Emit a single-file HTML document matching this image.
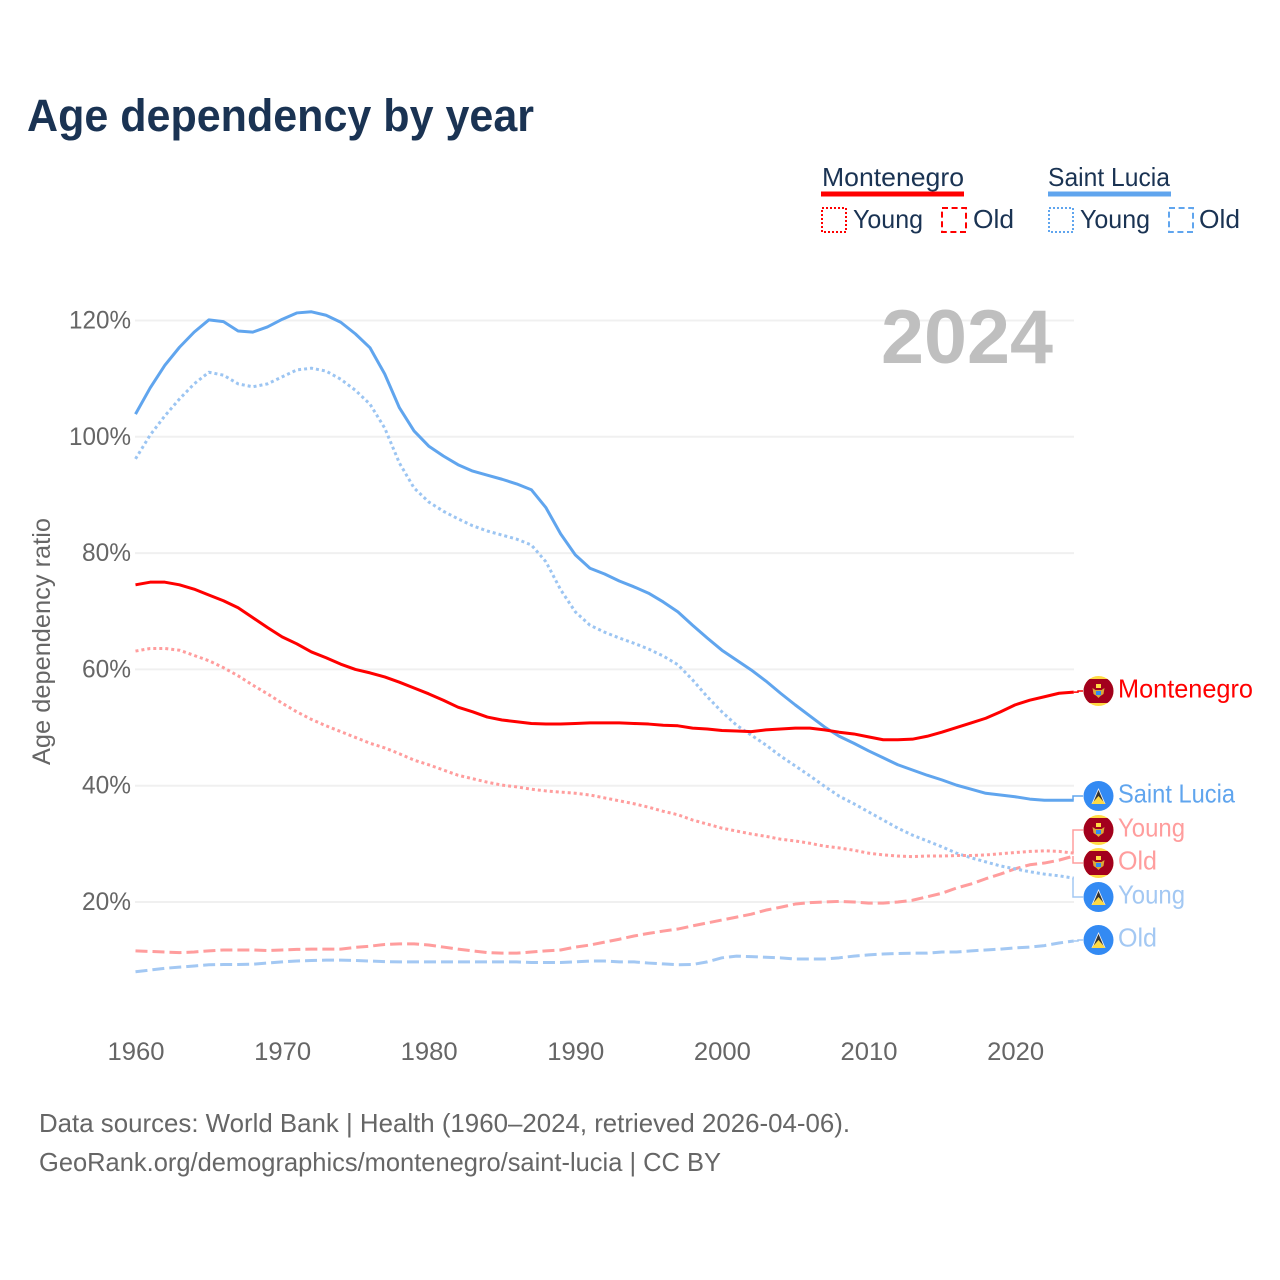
<!DOCTYPE html>
<html lang="en">
<head>
<meta charset="utf-8">
<title>Age dependency by year</title>
<style>
html,body{margin:0;padding:0;background:#fff;width:1280px;height:1280px;overflow:hidden}
svg{display:block;font-family:"Liberation Sans",sans-serif}
</style>
</head>
<body>
<svg id="chart" width="1280" height="1280" viewBox="0 0 1280 1280" xmlns="http://www.w3.org/2000/svg">
  <defs>
    <clipPath id="flag-clip"><circle cx="0" cy="0" r="15"/></clipPath>
    <g id="flag-me">
      <g clip-path="url(#flag-clip)">
        <rect x="-15" y="-15" width="30" height="30" fill="#ffda44"/>
        <rect x="-15" y="-12" width="30" height="24" fill="#a2001d"/>
        <path d="M-6 -3 L-3 -1 L3 -1 L6 -3 L5 3 L2 5 L0 7 L-2 5 L-5 3 Z" fill="#d9a93a"/>
        <rect x="-2.5" y="-7" width="5" height="4" fill="#ffda44"/>
        <rect x="-2.5" y="0" width="5" height="4" fill="#338af3"/>
      </g>
    </g>
    <g id="flag-lc">
      <g clip-path="url(#flag-clip)">
        <rect x="-15" y="-15" width="30" height="30" fill="#338af3"/>
        <path d="M0 -8 L7 8 L-7 8 Z" fill="#f0f0f0"/>
        <path d="M0 -6 L5.5 7 L-5.5 7 Z" fill="#333"/>
        <path d="M0 0 L7 8 L-7 8 Z" fill="#ffda44"/>
      </g>
    </g>
  </defs>

  <text x="27" y="131" font-size="45" font-weight="700" fill="#1a3353" textLength="507" lengthAdjust="spacingAndGlyphs">Age dependency by year</text>

  <g>
    <text x="822" y="186" font-size="26" fill="#1a3353" textLength="142" lengthAdjust="spacingAndGlyphs">Montenegro</text>
    <rect x="821" y="191.5" width="143" height="5" fill="#ff0000"/>
    <rect x="822" y="208" width="24" height="24" fill="none" stroke="#ff0000" stroke-width="2" stroke-dasharray="2 2"/>
    <text x="853" y="228" font-size="26" fill="#1a3353" textLength="70" lengthAdjust="spacingAndGlyphs">Young</text>
    <rect x="942" y="208" width="24" height="24" fill="none" stroke="#ff0000" stroke-width="2" stroke-dasharray="6 3.6"/>
    <text x="973" y="228" font-size="26" fill="#1a3353" textLength="41" lengthAdjust="spacingAndGlyphs">Old</text>

    <text x="1048" y="186" font-size="26" fill="#1a3353" textLength="122" lengthAdjust="spacingAndGlyphs">Saint Lucia</text>
    <rect x="1048" y="191.5" width="123" height="5" fill="#60a5ee"/>
    <rect x="1049" y="208" width="24" height="24" fill="none" stroke="#60a5ee" stroke-width="2" stroke-dasharray="2 2"/>
    <text x="1080" y="228" font-size="26" fill="#1a3353" textLength="70" lengthAdjust="spacingAndGlyphs">Young</text>
    <rect x="1169" y="208" width="24" height="24" fill="none" stroke="#60a5ee" stroke-width="2" stroke-dasharray="6 3.6"/>
    <text x="1199" y="228" font-size="26" fill="#1a3353" textLength="41" lengthAdjust="spacingAndGlyphs">Old</text>
  </g>

  <g id="grid"></g>

  <text x="881" y="363" font-size="76" font-weight="700" fill="#bfbfbf" textLength="172" lengthAdjust="spacingAndGlyphs">2024</text>

  <g id="y-ticks"></g>
  <g id="x-ticks"></g>
  <text transform="translate(50,765) rotate(-90)" x="0" y="0" font-size="25" fill="#666" textLength="247" lengthAdjust="spacingAndGlyphs">Age dependency ratio</text>

  <g id="connectors"></g>
  <g id="series"></g>
  <g id="end-labels"></g>

  <text x="39" y="1132" font-size="26" fill="#666" textLength="811" lengthAdjust="spacingAndGlyphs">Data sources: World Bank | Health (1960–2024, retrieved 2026-04-06).</text>
  <text x="39" y="1171" font-size="26" fill="#666" textLength="682" lengthAdjust="spacingAndGlyphs">GeoRank.org/demographics/montenegro/saint-lucia | CC BY</text>
</svg>
<script>
const years = [1960,1961,1962,1963,1964,1965,1966,1967,1968,1969,
  1970,1971,1972,1973,1974,1975,1976,1977,1978,1979,
  1980,1981,1982,1983,1984,1985,1986,1987,1988,1989,
  1990,1991,1992,1993,1994,1995,1996,1997,1998,1999,
  2000,2001,2002,2003,2004,2005,2006,2007,2008,2009,
  2010,2011,2012,2013,2014,2015,2016,2017,2018,2019,
  2020,2021,2022,2023,2024];
const xTickLabels = [1960,1970,1980,1990,2000,2010,2020];
const yTickLabels = [20,40,60,80,100,120];

const saintLuciaTotal = [103.9,108.4,112.3,115.4,118.0,120.1,119.8,118.2,118.0,118.9,
  120.2,121.3,121.5,120.9,119.7,117.7,115.3,110.8,105.0,101.0,
  98.4,96.7,95.2,94.1,93.4,92.7,91.9,90.9,87.8,83.3,
  79.7,77.4,76.4,75.2,74.2,73.1,71.6,69.9,67.6,65.4,
  63.3,61.6,59.9,58.0,55.9,53.9,52.0,50.1,48.5,47.3,
  46.0,44.8,43.6,42.7,41.8,41.0,40.1,39.4,38.7,38.4,
  38.1,37.7,37.5,37.5,37.5];
const saintLuciaYoung = [96.2,100.3,103.6,106.5,109.1,111.1,110.6,109.1,108.6,109.1,
  110.3,111.5,111.8,111.3,109.9,108.0,105.6,101.5,95.5,91.2,
  88.8,87.2,85.9,84.7,83.8,83.1,82.4,81.4,78.5,73.7,
  69.9,67.6,66.4,65.4,64.5,63.5,62.3,60.8,58.2,55.3,
  52.7,50.4,48.7,47.0,45.1,43.4,41.7,39.9,38.2,36.9,
  35.5,34.1,32.7,31.5,30.5,29.5,28.4,27.6,26.9,26.2,
  25.7,25.2,24.8,24.5,24.1];
const saintLuciaOld = [8.0,8.3,8.6,8.8,9.0,9.2,9.25,9.25,9.3,9.5,
  9.7,9.85,9.95,10.0,10.0,9.95,9.85,9.75,9.7,9.7,
  9.7,9.7,9.7,9.7,9.7,9.7,9.7,9.6,9.6,9.6,
  9.7,9.85,9.85,9.7,9.7,9.5,9.35,9.2,9.25,9.7,
  10.4,10.7,10.6,10.5,10.4,10.2,10.2,10.2,10.4,10.7,
  10.9,11.05,11.15,11.2,11.2,11.4,11.4,11.6,11.75,11.9,
  12.1,12.25,12.5,12.95,13.3];
const montenegroTotal = [74.55,75.0,75.0,74.55,73.8,72.8,71.8,70.6,68.9,67.2,
  65.6,64.4,63.0,62.0,60.9,60.0,59.4,58.7,57.8,56.8,
  55.8,54.7,53.5,52.7,51.8,51.3,51.0,50.7,50.6,50.6,
  50.7,50.8,50.8,50.8,50.7,50.6,50.4,50.3,49.9,49.75,
  49.5,49.4,49.3,49.6,49.75,49.9,49.9,49.6,49.2,48.9,
  48.4,47.9,47.9,48.0,48.5,49.2,50.0,50.8,51.6,52.7,
  53.9,54.7,55.3,55.9,56.1];
const montenegroYoung = [63.15,63.6,63.6,63.3,62.4,61.5,60.3,58.9,57.3,55.8,
  54.2,52.7,51.4,50.3,49.3,48.3,47.3,46.5,45.5,44.4,
  43.6,42.7,41.8,41.2,40.6,40.1,39.8,39.4,39.1,38.9,
  38.7,38.4,37.9,37.4,36.9,36.3,35.6,35.0,34.1,33.4,
  32.7,32.2,31.7,31.3,30.8,30.5,30.1,29.6,29.3,28.9,
  28.4,28.1,27.9,27.8,27.9,27.9,28.0,28.0,28.1,28.3,
  28.5,28.7,28.8,28.7,28.4];
const montenegroOld = [11.6,11.5,11.4,11.3,11.4,11.6,11.75,11.75,11.75,11.65,
  11.75,11.85,11.9,11.9,11.9,12.2,12.4,12.7,12.8,12.8,
  12.6,12.25,11.9,11.6,11.3,11.2,11.2,11.4,11.6,11.75,
  12.25,12.6,13.1,13.6,14.15,14.6,15.0,15.35,15.9,16.4,
  16.9,17.4,17.9,18.6,19.1,19.65,19.9,20.0,20.1,20.0,
  19.8,19.8,20.0,20.3,20.9,21.5,22.4,23.1,24.0,24.8,
  25.7,26.4,26.7,27.2,27.9];

const NS = 'http://www.w3.org/2000/svg';
function xScale(year){ return 135.5 + (year - 1960) * 14.66; }
function yScale(v){ return 1018.3 - v * 5.815; }
function linePath(values){
  return values.map(function(v,i){
    return (i ? 'L' : 'M') + xScale(years[i]).toFixed(2) + ' ' + yScale(v).toFixed(2);
  }).join(' ');
}
function mk(tag, attrs, parent, text){
  const el = document.createElementNS(NS, tag);
  for (const k in attrs) el.setAttribute(k, attrs[k]);
  if (text !== undefined) el.textContent = text;
  parent.appendChild(el);
  return el;
}

const gridG = document.getElementById('grid');
const yTickG = document.getElementById('y-ticks');
yTickLabels.forEach(function(v){
  const line = mk('line', {x1:135, x2:1074, y1:yScale(v), y2:yScale(v), stroke:'#f0f0f0', 'stroke-width':2}, gridG);
  
  
  const len = v >= 100 ? 62 : 49;
  const t = mk('text', {x:131, y:yScale(v)+8, 'text-anchor':'end', 'font-size':25, fill:'#666', textLength:len, lengthAdjust:'spacingAndGlyphs'}, yTickG, v + '%');
  
  
});
const xTickG = document.getElementById('x-ticks');
xTickLabels.forEach(function(y){
  const t = mk('text', {x:xScale(y) + 0.5, y:1060, 'text-anchor':'middle', 'font-size':25, fill:'#666', textLength:57, lengthAdjust:'spacingAndGlyphs'}, xTickG, String(y));
  
  
});

const seriesG = document.getElementById('series');
function drawSeries(values, name, color, dash){
  const attrs = {d:linePath(values), fill:'none', stroke:color, 'stroke-width':3, 'stroke-linejoin':'round'};
  if (dash) attrs['stroke-dasharray'] = dash;
  const p = mk('path', attrs, seriesG);
  
  
}
drawSeries(saintLuciaOld, 'line-saint-lucia-old', '#a3c8f3', '12 5');
drawSeries(montenegroOld, 'line-montenegro-old', '#ff9d9d', '12 5');
drawSeries(saintLuciaYoung, 'line-saint-lucia-young', '#9cc5f2', '3 3');
drawSeries(montenegroYoung, 'line-montenegro-young', '#ff9d9d', '3 3');
drawSeries(saintLuciaTotal, 'line-saint-lucia-total', '#60a5ee');
drawSeries(montenegroTotal, 'line-montenegro-total', '#ff0000');

const connG = document.getElementById('connectors');
const labelG = document.getElementById('end-labels');
function endLabel(values, flagY, flag, text, color, len, name, elbowX){
  const x0 = xScale(years[years.length - 1]);
  const y0 = yScale(values[values.length - 1]);
  const d = 'M' + Math.min(x0, elbowX) + ' ' + y0 + ' L' + elbowX + ' ' + y0 + ' L' + elbowX + ' ' + flagY + ' L1083 ' + flagY;
  const c = mk('path', {d:d, fill:'none', stroke:color, 'stroke-width':1.5}, connG);
  
  
  const f = mk('use', {href:'#' + flag, transform:'translate(1098.5,' + flagY + ')'}, labelG);
  
  
  const t = mk('text', {x:1118, y:flagY + 6.5, 'font-size':26, fill:color, textLength:len, lengthAdjust:'spacingAndGlyphs'}, labelG, text);
  
  
}
endLabel(montenegroTotal, 691, 'flag-me', 'Montenegro', '#ff0000', 135, 'montenegro-total', 1078);
endLabel(saintLuciaTotal, 796, 'flag-lc', 'Saint Lucia', '#60a5ee', 117, 'saint-lucia-total', 1073);
endLabel(montenegroYoung, 830, 'flag-me', 'Young', '#ff9d9d', 67, 'montenegro-young', 1073);
endLabel(montenegroOld, 863, 'flag-me', 'Old', '#ff9d9d', 39, 'montenegro-old', 1073);
endLabel(saintLuciaYoung, 897, 'flag-lc', 'Young', '#a3c8f3', 67, 'saint-lucia-young', 1073);
endLabel(saintLuciaOld, 940, 'flag-lc', 'Old', '#a3c8f3', 39, 'saint-lucia-old', 1078);
</script>
</body>
</html>
